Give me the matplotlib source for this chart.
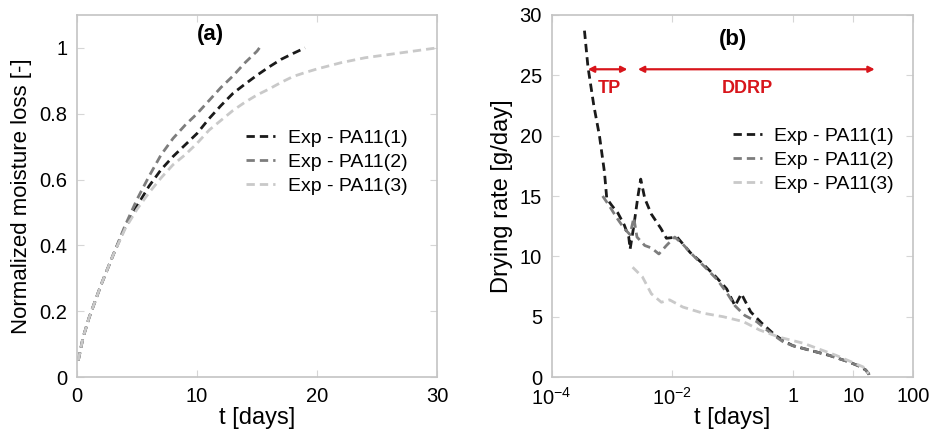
import matplotlib

matplotlib.use("Agg")
import matplotlib.pyplot as plt
from matplotlib.ticker import FixedLocator, FixedFormatter, NullLocator

plt.rcParams["font.family"] = ["Liberation Sans", "DejaVu Sans"]
plt.rcParams["mathtext.default"] = "regular"
plt.rcParams["lines.scale_dashes"] = False

LABELS = ["Exp - PA11(1)", "Exp - PA11(2)", "Exp - PA11(3)"]
COLORS = ["#1a1a1a", "#7d7d7d", "#c9c9c9"]

# panel (a): normalized moisture loss vs time [days]
T1 = [0.1, 0.5, 1, 1.5, 2, 3, 4, 5, 6, 7, 8, 9, 10, 11, 12, 13, 14, 15, 16, 17, 18, 19]
Y1 = [0.05, 0.12, 0.18, 0.23, 0.28, 0.37, 0.455, 0.52, 0.58, 0.63, 0.67, 0.705, 0.74,
      0.785, 0.825, 0.862, 0.89, 0.917, 0.942, 0.965, 0.983, 1.0]
T2 = [0.1, 0.5, 1, 1.5, 2, 3, 4, 5, 6, 7, 8, 9, 10, 11, 12, 13, 14, 15, 15.2]
Y2 = [0.05, 0.12, 0.18, 0.23, 0.28, 0.37, 0.46, 0.54, 0.61, 0.675, 0.725, 0.765, 0.80,
      0.84, 0.88, 0.915, 0.955, 0.99, 1.0]
T3 = [0.1, 0.5, 1, 1.5, 2, 3, 4, 5, 6, 7, 8, 9, 10, 11, 12, 13, 14, 15, 16, 17, 18,
      19, 20, 22, 24, 26, 28, 30]
Y3 = [0.05, 0.12, 0.18, 0.23, 0.28, 0.37, 0.45, 0.51, 0.56, 0.605, 0.645, 0.675, 0.71,
      0.75, 0.78, 0.81, 0.835, 0.857, 0.875, 0.895, 0.913, 0.925, 0.936, 0.955, 0.97,
      0.98, 0.99, 1.0]

# panel (b): drying rate [g/day] vs time [days] (log axis)
R1_T = [3.5e-4, 4.0e-4, 5.0e-4, 6.2e-4, 7.5e-4, 8.2e-4, 1.0e-3, 1.25e-3, 1.6e-3, 1.9e-3,
        2.0e-3, 2.3e-3, 2.7e-3, 3.0e-3, 3.5e-3, 4.5e-3, 6.5e-3, 8e-3, 1.2e-2, 2e-2,
        3.2e-2, 5.3e-2, 8e-2, 0.11, 0.14, 0.2, 0.3, 0.5, 0.7, 1.0, 2.0, 4.0, 8.0, 12,
        16, 18, 18.6]
R1_Y = [28.7, 25.7, 22.5, 20.0, 17.0, 14.8, 14.2, 13.6, 12.6, 11.6, 10.6, 12.5, 15.0,
        16.4, 14.8, 13.5, 12.3, 11.5, 11.6, 10.3, 9.4, 8.3, 7.3, 5.9, 6.9, 5.4, 4.5,
        3.5, 3.0, 2.6, 2.2, 1.8, 1.3, 0.95, 0.6, 0.3, 0.0]
R2_T = [7e-4, 9e-4, 1.2e-3, 1.6e-3, 2.0e-3, 2.3e-3, 2.6e-3, 3.5e-3, 4.5e-3, 6e-3, 8e-3,
        1.1e-2, 1.5e-2, 2.2e-2, 3.5e-2, 5.5e-2, 8e-2, 0.11, 0.16, 0.25, 0.35, 0.5, 0.7,
        1.0, 2.0, 4.0, 8.0, 12, 16, 18, 18.6]
R2_Y = [15.0, 14.2, 13.2, 12.3, 11.8, 13.2, 11.6, 10.9, 10.7, 10.2, 10.9, 11.6, 11.0,
        10.1, 9.1, 8.1, 7.0, 5.9, 5.1, 4.6, 4.0, 3.4, 2.9, 2.6, 2.2, 1.8, 1.3, 0.95,
        0.6, 0.3, 0.0]
R3_T = [2.2e-3, 3.2e-3, 4.5e-3, 6.6e-3, 9e-3, 1.5e-2, 3.2e-2, 7e-2, 0.15, 0.28, 0.6,
        1.5, 5.2, 14.5, 18]
R3_Y = [9.1, 8.3, 6.9, 6.2, 6.4, 5.8, 5.3, 5.0, 4.6, 3.9, 3.3, 2.8, 1.8, 0.85, 0.3]

XTICKS_B = [1e-4, 1e-2, 1, 10, 100]
XTICKLABELS_B = ["10$^{-4}$", "10$^{-2}$", "1", "10", "100"]

RED = "#d8151b"
DASHES = (6, 3.6)


def style_axes(ax):
    for spine in ax.spines.values():
        spine.set_color("#c4c4c4")
        spine.set_linewidth(1.2)
    ax.tick_params(direction="in", colors="#d6d6d6", labelcolor="black",
                   labelsize=14.5, top=True, right=True, length=5, pad=7)


fig = plt.figure(figsize=(9.35, 4.4), dpi=100)
ax_a = fig.add_axes([0.0824, 0.143, 0.385, 0.823])
ax_b = fig.add_axes([0.590, 0.143, 0.387, 0.823])

for t, y, c, lab in zip((T1, T2, T3), (Y1, Y2, Y3), COLORS, LABELS):
    ax_a.plot(t, y, color=c, lw=2.0, dashes=DASHES, label=lab)
ax_a.set_xlim(0, 30)
ax_a.set_ylim(0, 1.1)
ax_a.set_xticks([0, 10, 20, 30])
ax_a.set_yticks([0, 0.2, 0.4, 0.6, 0.8, 1.0])
ax_a.set_yticklabels(["0", "0.2", "0.4", "0.6", "0.8", "1"])
style_axes(ax_a)
ax_a.set_xlabel("t [days]", fontsize=17)
ax_a.set_ylabel("Normalized moisture loss [-]", fontsize=16)
ax_a.xaxis.set_label_coords(0.5, -0.083)
ax_a.yaxis.set_label_coords(-0.125, 0.5)
ax_a.text(0.37, 0.945, "(a)", transform=ax_a.transAxes, fontsize=16,
          fontweight="bold", ha="center", va="center")
ax_a.legend(loc="upper left", bbox_to_anchor=(0.47, 0.685), frameon=False,
            fontsize=14, handlelength=1.5, handletextpad=0.65, labelspacing=0.33,
            borderpad=0, borderaxespad=0)

for t, y, c, lab in zip((R1_T, R2_T, R3_T), (R1_Y, R2_Y, R3_Y), COLORS, LABELS):
    ax_b.plot(t, y, color=c, lw=2.0, dashes=DASHES, label=lab)
ax_b.set_xscale("log")
ax_b.set_xlim(1e-4, 100)
ax_b.set_ylim(0, 30)
ax_b.xaxis.set_major_locator(FixedLocator(XTICKS_B))
ax_b.xaxis.set_major_formatter(FixedFormatter(XTICKLABELS_B))
ax_b.xaxis.set_minor_locator(NullLocator())
ax_b.set_yticks([0, 5, 10, 15, 20, 25, 30])
style_axes(ax_b)
ax_b.set_xlabel("t [days]", fontsize=17)
ax_b.set_ylabel("Drying rate [g/day]", fontsize=17)
ax_b.xaxis.set_label_coords(0.5, -0.083)
ax_b.yaxis.set_label_coords(-0.108, 0.5)
ax_b.text(0.5, 0.932, "(b)", transform=ax_b.transAxes, fontsize=16,
          fontweight="bold", ha="center", va="center")
ax_b.legend(loc="upper left", bbox_to_anchor=(0.5, 0.69), frameon=False,
            fontsize=14, handlelength=1.5, handletextpad=0.65, labelspacing=0.33,
            borderpad=0, borderaxespad=0)

arrow = dict(arrowstyle="<|-|>,head_length=0.35,head_width=0.18", color=RED, lw=1.6,
             shrinkA=0, shrinkB=0)
ax_b.annotate("", xy=(4.0e-4, 25.5), xytext=(1.8e-3, 25.5), arrowprops=arrow)
ax_b.annotate("", xy=(2.7e-3, 25.5), xytext=(22.7, 25.5), arrowprops=arrow)
ax_b.text(9.0e-4, 23.9, "TP", color=RED, fontsize=13, fontweight="bold",
          ha="center", va="center")
ax_b.text(0.175, 23.9, "DDRP", color=RED, fontsize=13, fontweight="bold",
          ha="center", va="center")

fig.savefig("out.png", dpi=100)
plt.close(fig)
